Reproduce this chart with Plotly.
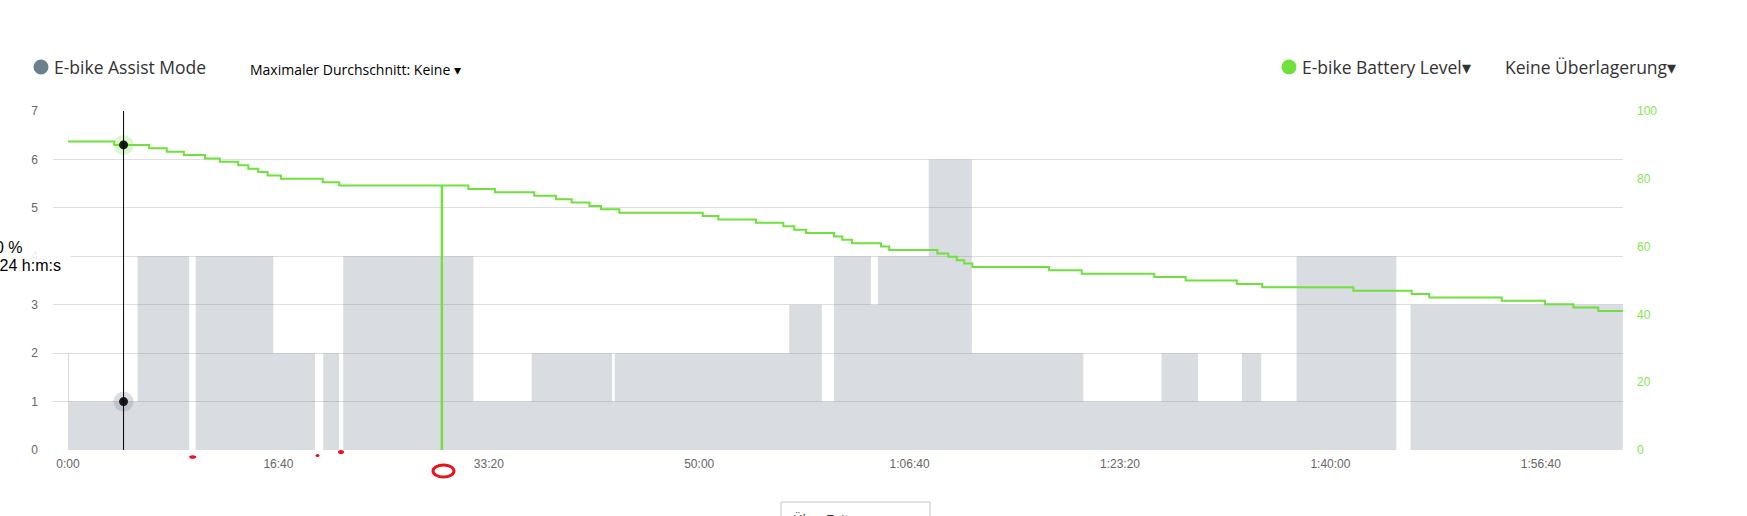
import plotly.graph_objects as go

# assist mode steps (seconds since start, mode level)
assist_t = [0, 5, 331, 576, 607, 976, 1174, 1213, 1288, 1308, 1927, 2204, 2586, 2599,
            3428, 3583, 3641, 3816, 3849, 4091, 4296, 4826, 5197, 5371, 5579, 5671,
            5839, 6313, 6381, 7390]
assist_mode = [2, 1, 4, 0, 4, 2, 0, 2, 0, 4, 1, 2, 1, 2,
               3, 1, 4, 3, 4, 6, 2, 1, 2, 1, 2, 1,
               4, 0, 3, 3]

# battery level steps (seconds, percent)
bat_t = [0, 220, 386, 469, 551, 651, 722, 809, 857, 904, 949, 1012, 1211, 1289,
         1776, 1778, 1903, 2029, 2216, 2319, 2394, 2478, 2533, 2620, 3017, 3091,
         3270, 3400, 3452, 3508, 3641, 3680, 3726, 3864, 3903, 4132, 4184, 4224,
         4260, 4298, 4663, 4818, 5163, 5312, 5555, 5676, 6109, 6386, 6470, 6814,
         7020, 7155, 7273, 7390]
bat_level = [91, 90, 89, 88, 87, 86, 85, 84, 83, 82, 81, 80, 79, 78,
             0, 78, 77, 76, 75, 74, 73, 72, 71, 70, 69, 68,
             67, 66, 65, 64, 63, 62, 61, 60, 59, 58, 57, 56,
             55, 54, 53, 52, 51, 50, 49, 48, 47, 46, 45, 44,
             43, 42, 41, 41]

x_tickvals = [0, 1000, 2000, 3000, 4000, 5000, 6000, 7000]
x_ticktext = ["0:00", "16:40", "33:20", "50:00", "1:06:40", "1:23:20", "1:40:00", "1:56:40"]
left_ticks = [0, 1, 2, 3, 4, 5, 6, 7]
right_ticks = [0, 20, 40, 60, 80, 100]

hover_t = 264
hover_bat = 90
hover_mode = 1

GREEN = "#6fe03c"
SLATE = "#6c7f8f"

# plot box in pixels, used to place the header bits
L, T, W, H = 53, 111, 1570, 339
def px(x):
    return (x - L) / W
def py(y):
    return (T + H - y) / H

fig = go.Figure()

fig.add_trace(go.Scatter(x=assist_t, y=assist_mode, mode="lines", line_shape="hv",
                         line=dict(width=0), fill="tozeroy",
                         fillcolor="rgba(108,124,138,0.26)", hoverinfo="skip"))

fig.add_trace(go.Scatter(x=bat_t, y=bat_level, yaxis="y2", mode="lines", line_shape="hv",
                         line=dict(color=GREEN, width=2), hoverinfo="skip"))

# hover crosshair + markers
fig.add_shape(type="line", xref="x", yref="paper", x0=hover_t, x1=hover_t, y0=0, y1=1,
              line=dict(color="#000", width=1))
fig.add_trace(go.Scatter(x=[hover_t], y=[hover_bat], yaxis="y2", mode="markers",
                         marker=dict(size=20, color="rgba(111,224,60,0.25)")))
fig.add_trace(go.Scatter(x=[hover_t], y=[hover_bat], yaxis="y2", mode="markers",
                         marker=dict(size=9, color="#1a1a1a")))
fig.add_trace(go.Scatter(x=[hover_t], y=[hover_mode], mode="markers",
                         marker=dict(size=20, color="rgba(108,124,138,0.25)")))
fig.add_trace(go.Scatter(x=[hover_t], y=[hover_mode], mode="markers",
                         marker=dict(size=9, color="#1a1a1a")))

# cut-off tooltip box on the left
fig.add_shape(type="rect", xref="paper", yref="paper", x0=px(-20), x1=px(71), y0=py(282), y1=py(228),
              fillcolor="rgba(255,255,255,0.88)", line=dict(width=0), layer="above")
fig.add_annotation(x=px(24), y=py(247), xref="paper", yref="paper", text="90 %", showarrow=False,
                   xanchor="right", yanchor="middle", font=dict(family="Liberation Sans", size=16, color="#000"))
fig.add_annotation(x=px(63), y=py(265), xref="paper", yref="paper", text="0:04:24 h:m:s", showarrow=False,
                   xanchor="right", yanchor="middle", font=dict(family="Liberation Sans", size=16, color="#000"))

# header "legend"
fig.add_shape(type="circle", xref="paper", yref="paper", x0=px(33.5), x1=px(48.5), y0=py(74.5), y1=py(59.5),
              fillcolor=SLATE, line=dict(width=0))
fig.add_shape(type="circle", xref="paper", yref="paper", x0=px(1281.5), x1=px(1296.5), y0=py(74.5), y1=py(59.5),
              fillcolor=GREEN, line=dict(width=0))
head_font = dict(family="Open Sans", size=17.5, color="#333")
fig.add_annotation(x=px(52), y=py(67), xref="paper", yref="paper", text="E-bike Assist Mode", showarrow=False,
                   xanchor="left", yanchor="middle", font=head_font)
fig.add_annotation(x=px(248), y=py(69), xref="paper", yref="paper", text="Maximaler Durchschnitt: Keine ▾",
                   showarrow=False, xanchor="left", yanchor="middle",
                   font=dict(family="Open Sans", size=14, color="#000"))
fig.add_annotation(x=px(1300), y=py(67), xref="paper", yref="paper", text="E-bike Battery Level▾", showarrow=False,
                   xanchor="left", yanchor="middle", font=head_font)
fig.add_annotation(x=px(1503), y=py(67), xref="paper", yref="paper", text="Keine Überlagerung▾", showarrow=False,
                   xanchor="left", yanchor="middle", font=head_font)

# dropdown peeking in at the bottom
fig.add_shape(type="rect", xref="paper", yref="paper", x0=px(781), x1=px(930), y0=py(530), y1=py(502),
              line=dict(color="#c4c4c4", width=1), fillcolor="#fff")
fig.add_annotation(x=px(791), y=py(519), xref="paper", yref="paper", text="Über Zeit", showarrow=False,
                   xanchor="left", yanchor="middle", font=dict(family="Open Sans", size=13, color="#333"))

# red scribbles
red = "#e8141c"
for cx, cy, rx, ry in [(192.7, 457, 3.5, 1.8), (317.5, 455.5, 2, 1.6), (341, 452, 3, 2)]:
    fig.add_shape(type="circle", xref="paper", yref="paper", x0=px(cx - rx), x1=px(cx + rx),
                  y0=py(cy + ry), y1=py(cy - ry), fillcolor=red, line=dict(width=0))
fig.add_shape(type="circle", xref="paper", yref="paper", x0=px(433), x1=px(454), y0=py(477), y1=py(465),
              fillcolor="rgba(0,0,0,0)", line=dict(color=red, width=3))

tick_font = dict(family="Liberation Sans", size=12, color="#666")
fig.update_layout(
    width=1747, height=516,
    margin=dict(l=L, r=1747 - L - W, t=T, b=516 - T - H),
    paper_bgcolor="white", plot_bgcolor="white",
    showlegend=False,
    xaxis=dict(range=[-71.3, 7390.6], tickvals=x_tickvals, ticktext=x_ticktext,
               showgrid=False, zeroline=False, showline=False, tickfont=tick_font,
               ticks="", ticklabelstandoff=5),
    yaxis=dict(range=[0, 7], tickvals=left_ticks, showgrid=True, gridcolor="#dedede", gridwidth=1,
               zeroline=False, showline=False, tickfont=tick_font, ticks="", ticklabelstandoff=14),
    yaxis2=dict(range=[0, 100], overlaying="y", side="right", tickvals=right_ticks,
                showgrid=False, zeroline=False, showline=False, ticks="",
                tickfont=dict(family="Liberation Sans", size=12, color="#7fe84f"), ticklabelstandoff=13),
)

# page body has an 8px default margin; drop it so the chart sits at the window corner
fig.write_html("out.html", config={"displayModeBar": False},
               post_script="document.body.style.margin='0';")
